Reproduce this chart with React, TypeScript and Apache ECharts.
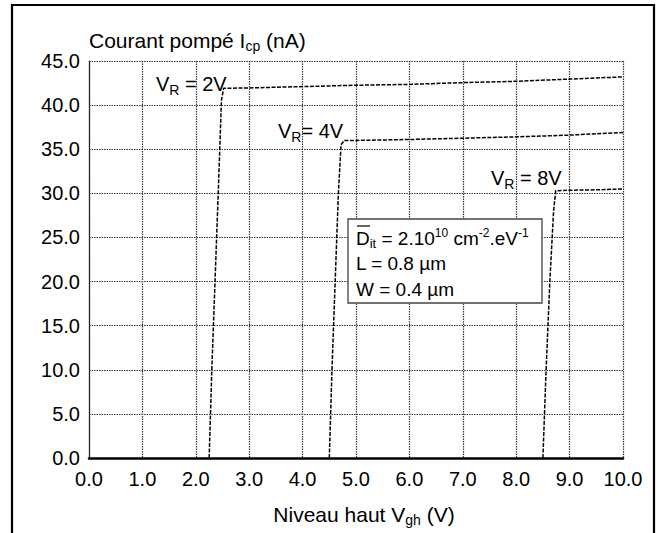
import React, { useEffect, useRef } from 'react';
import * as echarts from 'echarts';

// Axis ranges and tick steps
const xRange = [0, 10];
const xStep = 1;
const yRange = [0, 45];
const yStep = 5;

// Pumped current curves (x = Vgh in V, y = Icp in nA)
const vr2V = [
  [2.25, 0], [2.30, 10], [2.36, 20], [2.42, 30], [2.48, 40.5], [2.52, 41.9],
  [3.0, 41.95], [4.0, 42.1], [5.0, 42.25], [6.0, 42.35], [7.0, 42.55],
  [8.0, 42.7], [9.0, 42.95], [10.0, 43.2],
];
const vr4V = [
  [4.50, 0], [4.55, 10], [4.61, 20], [4.67, 30], [4.72, 35.5], [4.78, 36.0],
  [5.0, 36.0], [6.0, 36.1], [7.0, 36.25], [8.0, 36.4], [9.0, 36.6], [10.0, 36.9],
];
const vr8V = [
  [8.50, 0], [8.56, 10], [8.63, 20], [8.70, 28], [8.74, 30.3],
  [9.0, 30.35], [9.5, 30.4], [10.0, 30.5],
];

const seriesNames = ['VR = 2V', 'VR = 4V', 'VR = 8V'];

const FONT = '"Liberation Sans", Arial, Helvetica, sans-serif';
const INK = '#000';

export default function App() {
  const ref = useRef<HTMLDivElement>(null);

  useEffect(() => {
    const chart = echarts.init(ref.current!, null, { renderer: 'svg' });

    const lineStyle = { color: INK, width: 1.5, type: [4, 1.5] as any };
    const gridLine = { color: '#3a3a3a', width: 1.2, type: [1.5, 1] as any };

    const annRich = {
      sub: { fontSize: 14, lineHeight: 14, verticalAlign: 'bottom', fill: INK, fontFamily: FONT },
    };
    const boxRich = {
      sub: { fontSize: 13, lineHeight: 13, verticalAlign: 'bottom', fill: INK, fontFamily: FONT },
      sup: { fontSize: 12, lineHeight: 12, verticalAlign: 'top', fill: INK, fontFamily: FONT },
    };

    const annText = (text: string, x: number, y: number) => ({
      type: 'text',
      x,
      y,
      z: 101,
      silent: true,
      style: {
        text,
        fontSize: 20,
        lineHeight: 25,
        fontFamily: FONT,
        fill: INK,
        align: 'left',
        verticalAlign: 'middle',
        rich: annRich,
      },
    });

    const boxText = (text: string, x: number, y: number) => ({
      type: 'text',
      x,
      y,
      z: 102,
      silent: true,
      style: {
        text,
        fontSize: 19,
        lineHeight: 23,
        fontFamily: FONT,
        fill: INK,
        align: 'left',
        verticalAlign: 'middle',
        rich: boxRich,
      },
    });

    chart.setOption({
      animation: false,
      backgroundColor: '#fff',
      textStyle: { fontFamily: FONT },
      grid: { left: 89, right: 38, top: 61, bottom: 75 },
      xAxis: {
        type: 'value',
        min: xRange[0],
        max: xRange[1],
        interval: xStep,
        axisLine: { show: true, onZero: false, lineStyle: { color: '#000', width: 2.5 } },
        axisTick: { show: false },
        axisLabel: {
          formatter: (v: number) => v.toFixed(1),
          fontSize: 20,
          color: INK,
          margin: 11,
          fontFamily: FONT,
        },
        splitLine: { show: true, lineStyle: gridLine },
        name: 'Niveau haut V{sub|gh} (V)',
        nameLocation: 'middle',
        nameGap: 56,
        nameTextStyle: {
          fontSize: 21,
          color: INK,
          fontFamily: FONT,
          verticalAlign: 'middle',
          lineHeight: 26,
          padding: [0, 0, 0, 16],
          rich: {
            sub: { fontSize: 14, lineHeight: 14, verticalAlign: 'bottom', color: INK, fontFamily: FONT },
          },
        },
      },
      yAxis: {
        type: 'value',
        min: yRange[0],
        max: yRange[1],
        interval: yStep,
        axisLine: { show: true, lineStyle: { color: '#222', width: 1.2 } },
        axisTick: { show: false },
        axisLabel: {
          formatter: (v: number) => v.toFixed(1),
          fontSize: 20,
          color: INK,
          margin: 9,
          fontFamily: FONT,
        },
        splitLine: { show: true, lineStyle: gridLine },
        name: 'Courant pompé I{sub|cp} (nA)',
        nameLocation: 'end',
        nameGap: 21,
        nameTextStyle: {
          fontSize: 21,
          color: INK,
          fontFamily: FONT,
          align: 'left',
          verticalAlign: 'middle',
          lineHeight: 26,
          rich: {
            sub: { fontSize: 14, lineHeight: 14, verticalAlign: 'bottom', color: INK, fontFamily: FONT },
          },
        },
      },
      series: [vr2V, vr4V, vr8V].map((d, i) => ({
        name: seriesNames[i],
        type: 'line',
        data: d,
        symbol: 'none',
        showSymbol: false,
        lineStyle,
        z: 3,
      })),
      graphic: [
        {
          type: 'rect',
          z: 100,
          silent: true,
          shape: { x: 12, y: 5, width: 642, height: 600 },
          style: { fill: 'none', stroke: '#000', lineWidth: 2.2 },
        },
        annText('V{sub|R} = 2V', 156, 84),
        annText('V{sub|R}= 4V', 278, 131),
        annText('V{sub|R} = 8V', 491, 178),
        {
          type: 'rect',
          z: 100,
          silent: true,
          shape: { x: 348, y: 219, width: 194, height: 84 },
          style: { fill: '#fff', stroke: '#444', lineWidth: 1.3 },
        },
        boxText('D{sub|it} = 2.10{sup|10} cm{sup|-2}.eV{sup|-1}', 356, 238),
        boxText('L = 0.8 µm', 356, 263),
        boxText('W = 0.4 µm', 356, 289),
        {
          type: 'line',
          z: 102,
          silent: true,
          shape: { x1: 357, y1: 226, x2: 370, y2: 226 },
          style: { stroke: INK, lineWidth: 1.2 },
        },
      ],
    });

    return () => chart.dispose();
  }, []);

  return (
    <div
      ref={ref}
      style={{ position: 'fixed', left: 0, top: 0, width: 661, height: 533, background: '#fff' }}
    />
  );
}
